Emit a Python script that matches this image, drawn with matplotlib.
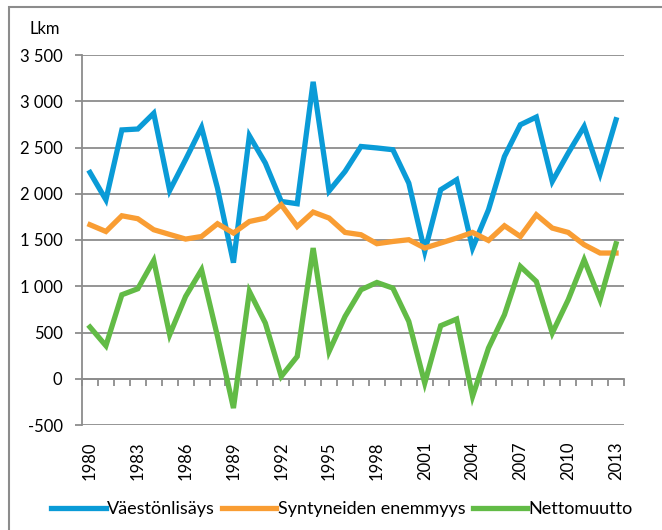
import matplotlib
matplotlib.use("Agg")
import matplotlib.pyplot as plt
import numpy as np
from matplotlib.patches import Rectangle
from matplotlib.ticker import FuncFormatter

years = list(range(1980, 2014))
vaestonlisays = [2230, 1935, 2690, 2700, 2870, 2035, 2370, 2717, 2060, 1255,
                 2627, 2332, 1917, 1892, 3210, 2030, 2241, 2511, 2495, 2476,
                 2115, 1376, 2043, 2151, 1413, 1827, 2403, 2746, 2829, 2133,
                 2440, 2727, 2216, 2800]
syntyneiden = [1665, 1592, 1762, 1730, 1611, 1560, 1510, 1538, 1676, 1575,
               1700, 1737, 1881, 1646, 1802, 1737, 1582, 1557, 1460, 1484,
               1503, 1413, 1467, 1521, 1582, 1495, 1654, 1538, 1773, 1629,
               1582, 1449, 1359, 1359]
nettomuutto = [559, 357, 908, 973, 1279, 476, 890, 1178, 457, -317,
               944, 602, 25, 241, 1413, 295, 673, 962, 1041, 980,
               620, -47, 573, 645, -191, 332, 692, 1214, 1052, 494,
               854, 1286, 854, 1460]
labels = ["Väestönlisäys", "Syntyneiden enemmyys", "Nettomuutto"]
colors = ["#0A9BD7", "#F99D33", "#62BB46"]

plt.rcParams['font.family'] = ['Lato', 'DejaVu Sans']
grid_col = "#8C8C8C"

fig = plt.figure(figsize=(6.62, 5.3), dpi=100)
ax = fig.add_axes([82/662, 1-425/530, (624-82)/662, (425-55)/530])

x = np.arange(len(years))
for s, lab, c in zip([vaestonlisays, syntyneiden, nettomuutto], labels, colors):
    ax.plot(x, s, color=c, lw=3.8, label=lab, solid_joinstyle='miter', zorder=3)

ax.set_xlim(-0.5, len(years) - 0.5)
ax.set_ylim(-500, 3500)
ax.set_yticks(range(-500, 3501, 500))
ax.yaxis.set_major_formatter(FuncFormatter(lambda v, p: f"{int(v):,}".replace(",", " ")))
ax.grid(axis='y', color=grid_col, lw=1.3, zorder=0)
ax.set_axisbelow(True)

for side in ['top', 'right', 'bottom']:
    ax.spines[side].set_visible(False)
ax.spines['left'].set_color(grid_col)
ax.spines['left'].set_linewidth(1.3)
ax.tick_params(axis='y', length=5, width=1.3, color=grid_col, pad=9, labelsize=12)

lab_idx = [i for i, y in enumerate(years) if (y - 1980) % 3 == 0]
ax.set_xticks(lab_idx)
ax.set_xticklabels([str(years[i]) for i in lab_idx], rotation=90)
ax.tick_params(axis='x', length=0, pad=12, labelsize=12)

# horizontal axis line at zero with category tick marks
sec = ax.secondary_xaxis(0.125)
sec.set_xticks(np.arange(-0.5, len(years), 1.0))
sec.set_xticklabels([])
sec.tick_params(axis='x', length=5, width=1.3, color=grid_col, direction='out')
sec.spines['bottom'].set_color(grid_col)
sec.spines['bottom'].set_linewidth(1.3)

fig.text(29/662, 1-29/530, "Lkm", fontsize=12, ha='left', va='center')

fig.legend(loc='center', bbox_to_anchor=(342/662, 1-509/530), ncol=3, frameon=False,
           fontsize=13, handlelength=3.0, handletextpad=0.08, columnspacing=0.4)

fig.patches.append(Rectangle((9/662, -0.1), 1.2, 1.1-7/530, transform=fig.transFigure,
                             fill=False, edgecolor="#8C8C8C", lw=1.5))

fig.savefig("out.png", dpi=100)
